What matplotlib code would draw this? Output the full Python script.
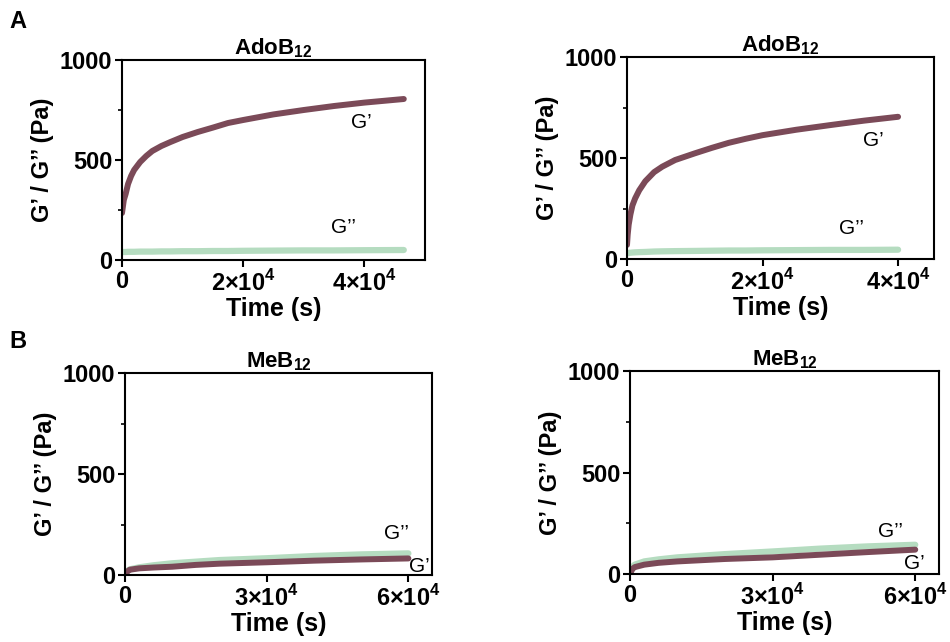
import matplotlib
matplotlib.use("Agg")
import matplotlib.pyplot as plt
from matplotlib.ticker import FixedLocator

plt.rcParams["font.family"] = ["Liberation Sans", "DejaVu Sans"]
plt.rcParams["mathtext.fontset"] = "custom"
plt.rcParams["mathtext.rm"] = "Liberation Sans"
plt.rcParams["mathtext.bf"] = "Liberation Sans:bold"

G1_COLOR = "#7b4a58"   # G'
G2_COLOR = "#b5dcc0"   # G''

# --- A, left: AdoB12 ---
a1_t = [0, 300, 600, 1000, 1500, 2000, 3000, 4000, 5000, 6500, 8000, 10000, 12500,
        15000, 17500, 20000, 25000, 30000, 35000, 40000, 46500]
a1_g1 = [235, 300, 330, 380, 420, 450, 490, 520, 545, 570, 590, 615, 640,
         662, 685, 700, 728, 750, 770, 787, 805]
a1_g2 = [40, 40, 40, 41, 41, 41, 42, 42, 42, 43, 43, 44, 44,
         45, 45, 46, 47, 48, 48, 49, 50]

# --- A, right: AdoB12 ---
a2_t = [0, 100, 250, 500, 800, 1200, 1800, 2700, 4000, 5200, 7100, 10000, 12500,
        15000, 17500, 20000, 25000, 30000, 35000, 40000]
a2_g1 = [70, 120, 170, 220, 265, 300, 340, 385, 430, 457, 490, 523, 550,
         575, 595, 613, 640, 663, 685, 704]
a2_g2 = [28, 29, 30, 31, 32, 33, 34, 35, 37, 38, 39, 40, 41,
         42, 42, 43, 44, 45, 45, 46]

# --- B, left: MeB12 ---
b1_t = [0, 500, 1000, 3000, 6000, 10000, 15000, 20000, 30000, 40000, 50000, 60000]
b1_g1 = [0, 18, 26, 33, 37, 41, 50, 56, 63, 71, 77, 82]
b1_g2 = [0, 20, 28, 38, 48, 58, 66, 74, 83, 94, 102, 107]

# --- B, right: MeB12 ---
b2_t = [0, 500, 1000, 3000, 6000, 10000, 15000, 20000, 30000, 40000, 50000, 60000]
b2_g1 = [0, 25, 34, 46, 55, 62, 68, 74, 82, 95, 108, 120]
b2_g2 = [0, 35, 46, 62, 72, 82, 90, 98, 111, 125, 136, 144]

ticks_a = ["0", r"2×10$^\mathbf{4}$", r"4×10$^\mathbf{4}$"]
ticks_b = ["0", r"3×10$^\mathbf{4}$", r"6×10$^\mathbf{4}$"]
title_a = r"AdoB$_\mathbf{12}$"
title_b = r"MeB$_\mathbf{12}$"

panels = [
    dict(rect=[122, 60, 425, 260], t=a1_t, g1=a1_g1, g2=a1_g2, title=title_a,
         xmax=5.0e4, xticks=[0, 2e4, 4e4], xlabels=ticks_a,
         lab1=(3.95e4, 690), lab2=(3.65e4, 165)),
    dict(rect=[627, 57, 934, 259], t=a2_t, g1=a2_g1, g2=a2_g2, title=title_a,
         xmax=4.53e4, xticks=[0, 2e4, 4e4], xlabels=ticks_a,
         lab1=(3.64e4, 589), lab2=(3.32e4, 153)),
    dict(rect=[125, 373, 432, 575], t=b1_t, g1=b1_g1, g2=b1_g2, title=title_b,
         xmax=6.5e4, xticks=[0, 3e4, 6e4], xlabels=ticks_b,
         lab1=(6.23e4, 41), lab2=(5.75e4, 203)),
    dict(rect=[630, 371, 939, 574], t=b2_t, g1=b2_g1, g2=b2_g2, title=title_b,
         xmax=6.5e4, xticks=[0, 3e4, 6e4], xlabels=ticks_b,
         lab1=(5.98e4, 54), lab2=(5.47e4, 210)),
]

W, H = 950, 642
fig = plt.figure(figsize=(W / 100, H / 100), dpi=100)

for p in panels:
    x0, y0, x1, y1 = p["rect"]
    ax = fig.add_axes([x0 / W, 1 - y1 / H, (x1 - x0) / W, (y1 - y0) / H])
    ax.plot(p["t"], p["g2"], color=G2_COLOR, lw=4.5, solid_capstyle="round")
    ax.plot(p["t"], p["g1"], color=G1_COLOR, lw=4.3, solid_capstyle="round")
    ax.set_xlim(0, p["xmax"])
    ax.set_ylim(0, 1000)
    ax.set_xticks(p["xticks"])
    ax.set_xticklabels(p["xlabels"])
    ax.yaxis.set_major_locator(FixedLocator([0, 500, 1000]))
    ax.yaxis.set_minor_locator(FixedLocator([250, 750]))
    for s in ax.spines.values():
        s.set_linewidth(1.5)
    ax.tick_params(axis="both", which="major", length=5, width=1.5, labelsize=17, pad=2)
    ax.tick_params(axis="y", which="minor", length=3, width=1.2)
    for lab in ax.get_xticklabels() + ax.get_yticklabels():
        lab.set_fontweight("bold")
    ax.set_xlabel("Time (s)", fontsize=18, fontweight="bold", labelpad=1)
    ax.set_ylabel("G’ / G’’ (Pa)", fontsize=17, fontweight="bold", labelpad=4)
    ax.set_title(p["title"], fontsize=16, fontweight="bold", pad=3)
    ax.text(*p["lab1"], "G’", fontsize=15, ha="center", va="center")
    ax.text(*p["lab2"], "G’’", fontsize=15, ha="center", va="center")

fig.text(18 / W, 1 - 22 / H, "A", fontsize=17, fontweight="bold", ha="center", va="center")
fig.text(18 / W, 1 - 341 / H, "B", fontsize=17, fontweight="bold", ha="center", va="center")

fig.savefig("out.png", dpi=100)
